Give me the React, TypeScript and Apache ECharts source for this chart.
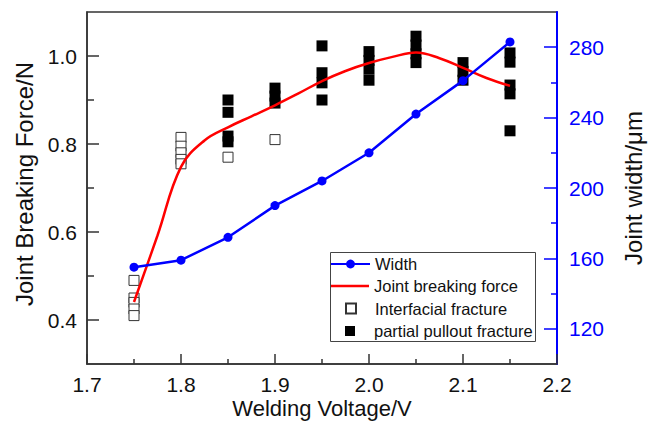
import React, { useEffect, useRef } from "react";
import * as echarts from "echarts";

// ---- data ----
const widthVoltages = [1.75, 1.8, 1.85, 1.9, 1.95, 2.0, 2.05, 2.1, 2.15];
const widthValues = [155, 159, 172, 190, 204, 220, 242, 261, 283];

const forceCurveVoltages = [
  1.75, 1.775, 1.8, 1.825, 1.85, 1.875, 1.9, 1.925, 1.95, 1.975, 2.0, 2.025, 2.05, 2.075, 2.1,
  2.125, 2.15,
];
const forceCurveValues = [
  0.441, 0.592, 0.748, 0.808, 0.838, 0.863, 0.888, 0.915, 0.943, 0.966, 0.984, 0.998, 1.008, 0.995,
  0.973, 0.95, 0.932,
];

const interfacialVoltages = [1.75, 1.75, 1.75, 1.75, 1.75, 1.8, 1.8, 1.8, 1.8, 1.8, 1.85, 1.9];
const interfacialForces = [0.49, 0.45, 0.44, 0.425, 0.41, 0.815, 0.795, 0.78, 0.765, 0.755, 0.77, 0.81];

const pulloutVoltages = [
  1.85, 1.85, 1.85, 1.85, 1.9, 1.9, 1.9, 1.95, 1.95, 1.95, 1.95, 2.0, 2.0, 2.0, 2.0, 2.05, 2.05, 2.05,
  2.05, 2.1, 2.1, 2.1, 2.15, 2.15, 2.15, 2.15, 2.15,
];
const pulloutForces = [
  0.9, 0.872, 0.818, 0.805, 0.927, 0.909, 0.893, 1.023, 0.962, 0.939, 0.9, 1.01, 0.99, 0.97, 0.945,
  1.045, 1.025, 1.005, 0.985, 0.985, 0.965, 0.945, 1.007, 0.986, 0.934, 0.914, 0.83,
];

const leftMajorTicks = [0.4, 0.6, 0.8, 1.0];
const leftMinorTicks = [0.5, 0.7, 0.9];
const rightMajorTicks = [120, 160, 200, 240, 280];
const rightMinorTicks = [140, 180, 220, 260];

const seriesNames = ["Width", "Joint breaking force", "Interfacial fracture", "partial pullout fracture"];

const FONT = "'Liberation Sans', Arial, Helvetica, sans-serif";
const DARK = "#333";
const TEXT = "#111";
const BLUE = "#0000ff";
const RED = "#ff0000";

const zip = (xs: number[], ys: number[]) => xs.map((x, i) => [x, ys[i]]);

function buildOption(): any {
  const legendText = { fontSize: 16.5, color: TEXT, lineHeight: 20 };
  return {
    animation: false,
    backgroundColor: "#ffffff",
    textStyle: { fontFamily: FONT },
    grid: {
      left: 87,
      right: 102,
      top: 12,
      bottom: 58,
      containLabel: false,
      outerBoundsMode: "none",
      show: true,
      borderColor: DARK,
      borderWidth: 1.5,
      backgroundColor: "transparent",
    },
    xAxis: {
      type: "value",
      min: 1.7,
      max: 2.2,
      interval: 0.1,
      name: "Welding Voltage/V",
      nameLocation: "middle",
      nameGap: 33,
      nameMoveOverlap: false,
      nameTextStyle: { fontSize: 22, color: TEXT, fontFamily: FONT, lineHeight: 22 },
      axisLine: { lineStyle: { color: DARK, width: 1.5 } },
      axisTick: { inside: true, length: 10, lineStyle: { color: DARK, width: 1.5 } },
      minorTick: { show: true, splitNumber: 2, length: 5, lineStyle: { color: DARK, width: 1.5 } },
      axisLabel: {
        fontSize: 21,
        lineHeight: 21,
        color: TEXT,
        margin: 10,
        formatter: (v: number) => v.toFixed(1),
      },
      splitLine: { show: false },
      minorSplitLine: { show: false },
    },
    yAxis: [
      {
        type: "value",
        position: "left",
        min: 0.3,
        max: 1.1,
        interval: 0.1,
        name: "Joint Breaking Force/N",
        nameLocation: "middle",
        nameGap: 48,
        nameRotate: 90,
        nameTextStyle: { fontSize: 24, color: TEXT, fontFamily: FONT, padding: [0, 0, 0, 8] },
        axisLine: { show: true, lineStyle: { color: DARK, width: 1.5 } },
        axisTick: {
          inside: true,
          length: 12,
          customValues: leftMajorTicks,
          lineStyle: { color: DARK, width: 1.5 },
        },
        axisLabel: {
          fontSize: 21,
          color: TEXT,
          margin: 10,
          customValues: leftMajorTicks,
          formatter: (v: number) => v.toFixed(1),
        },
        splitLine: { show: false },
      },
      {
        type: "value",
        position: "left",
        min: 0.3,
        max: 1.1,
        interval: 0.1,
        axisLine: { show: false },
        axisTick: {
          inside: true,
          length: 7,
          customValues: leftMinorTicks,
          lineStyle: { color: DARK, width: 1.5 },
        },
        axisLabel: { show: false },
        splitLine: { show: false },
      },
      {
        type: "value",
        position: "right",
        min: 100,
        max: 300,
        interval: 20,
        name: "Joint width/\u03bcm",
        nameLocation: "middle",
        nameGap: 64,
        nameRotate: 90,
        nameTextStyle: { fontSize: 24, color: TEXT, fontFamily: FONT },
        axisLine: { show: true, lineStyle: { color: BLUE, width: 2 } },
        axisTick: {
          inside: true,
          length: 13,
          customValues: rightMajorTicks,
          lineStyle: { color: BLUE, width: 1.5 },
        },
        axisLabel: {
          fontSize: 21,
          color: BLUE,
          margin: 12,
          customValues: rightMajorTicks,
        },
        splitLine: { show: false },
      },
      {
        type: "value",
        position: "right",
        min: 100,
        max: 300,
        interval: 20,
        axisLine: { show: false },
        axisTick: {
          inside: true,
          length: 6,
          customValues: rightMinorTicks,
          lineStyle: { color: BLUE, width: 1.5 },
        },
        axisLabel: { show: false },
        splitLine: { show: false },
      },
    ],
    legend: [
      {
        data: [seriesNames[0]],
        left: 330,
        top: 254,
        padding: 0,
        itemWidth: 39,
        itemHeight: 11,
        textStyle: legendText,
      },
      {
        data: [{ name: seriesNames[1], icon: "rect" }],
        left: 330,
        top: 276,
        padding: 0,
        itemWidth: 39,
        itemHeight: 2.5,
        textStyle: legendText,
      },
      {
        data: [seriesNames[2]],
        left: 345,
        top: 298.5,
        padding: 0,
        itemWidth: 10,
        itemHeight: 10,
        textStyle: { ...legendText, padding: [0, 0, 0, 14] },
      },
      {
        data: [seriesNames[3]],
        left: 345,
        top: 321,
        padding: 0,
        itemWidth: 10,
        itemHeight: 10,
        textStyle: { ...legendText, padding: [0, 0, 0, 14] },
      },
    ],
    graphic: [
      {
        type: "rect",
        shape: { x: 330.5, y: 252.5, width: 205, height: 89 },
        style: { fill: "transparent", stroke: "#444", lineWidth: 1 },
        z: 10,
        silent: true,
      },
    ],
    series: [
      {
        name: seriesNames[2],
        type: "scatter",
        yAxisIndex: 0,
        symbol: "rect",
        symbolSize: 10,
        itemStyle: { color: "#ffffff", borderColor: DARK, borderWidth: 1, opacity: 1 },
        data: zip(interfacialVoltages, interfacialForces),
        z: 2,
      },
      {
        name: seriesNames[3],
        type: "scatter",
        yAxisIndex: 0,
        symbol: "rect",
        symbolSize: 11,
        itemStyle: { color: "#000000", opacity: 1 },
        data: zip(pulloutVoltages, pulloutForces),
        z: 2,
      },
      {
        name: seriesNames[1],
        type: "line",
        yAxisIndex: 0,
        smooth: 0.4,
        symbol: "none",
        lineStyle: { color: RED, width: 2.5 },
        itemStyle: { color: RED },
        data: zip(forceCurveVoltages, forceCurveValues),
        z: 3,
      },
      {
        name: seriesNames[0],
        type: "line",
        yAxisIndex: 2,
        symbol: "circle",
        symbolSize: 9,
        lineStyle: { color: BLUE, width: 2.5 },
        itemStyle: { color: BLUE },
        data: zip(widthVoltages, widthValues),
        z: 4,
      },
    ],
  };
}

export default function App() {
  const ref = useRef<HTMLDivElement>(null);
  useEffect(() => {
    if (!ref.current) return;
    const chart = echarts.init(ref.current, null, { renderer: "svg" });
    chart.setOption(buildOption());
    return () => chart.dispose();
  }, []);
  return (
    <div
      ref={ref}
      style={{ position: "fixed", left: 0, top: 0, width: 659, height: 422, background: "#fff" }}
    />
  );
}
